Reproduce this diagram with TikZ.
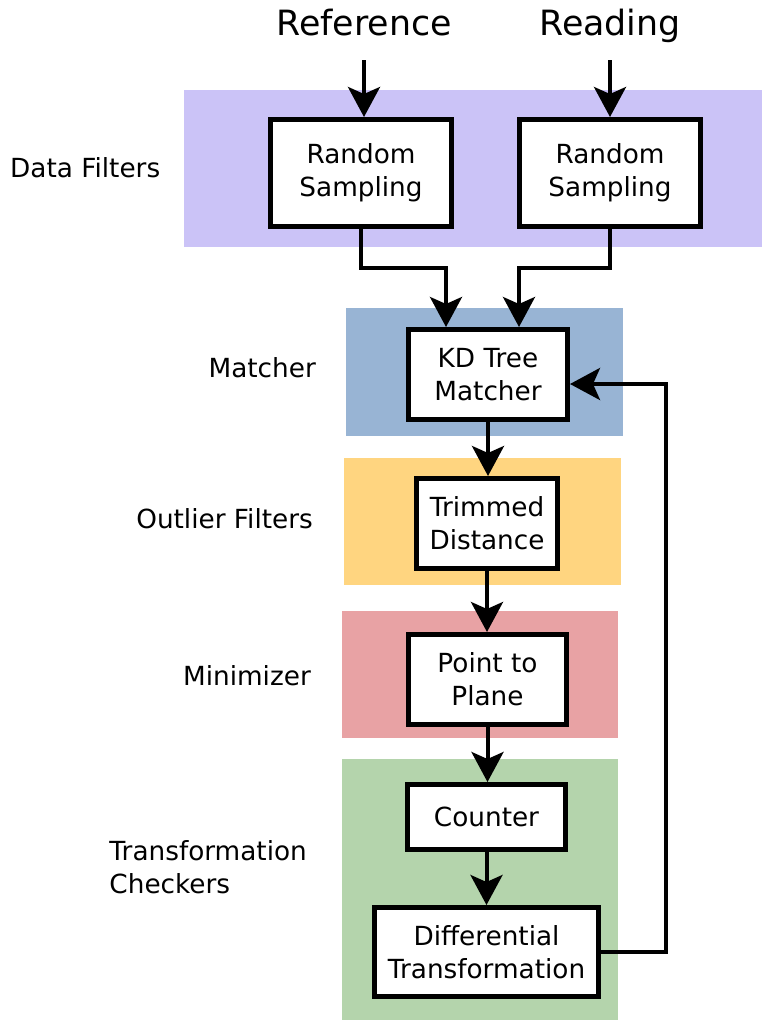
\documentclass[tikz,border=0pt]{standalone}
\usepackage{fontspec}
\setmainfont{DejaVu Sans}
\usetikzlibrary{arrows.meta}
\definecolor{data-violet}{HTML}{CBC3F7}
\definecolor{matcher-blue}{HTML}{98B4D4}
\definecolor{outlier-yellow}{HTML}{FFD580}
\definecolor{minimizer-red}{HTML}{E8A2A4}
\definecolor{checker-green}{HTML}{B4D4AC}
\tikzset{
    step-box/.style = {draw=black, fill=white, line width=5pt, rectangle, inner sep=0pt, align=center, font=\fontsize{26.3}{33}\selectfont},
    band-label/.style = {inner sep=0pt, align=left, font=\fontsize{26.3}{33}\selectfont},
    input-title/.style = {inner sep=0pt, anchor=base, font=\fontsize{34.8}{40}\selectfont},
    flow/.style = {line width=4pt, -{Stealth[length=30pt, width=32pt, inset=7pt]}},
}

\begin{document}
\begin{tikzpicture}[x=1pt, y=-1pt]
\useasboundingbox (0,0) rectangle (762,1020);
% stage bands
\fill[data-violet] (184,90) rectangle (762,247);
\fill[matcher-blue] (346,308) rectangle (623,436);
\fill[outlier-yellow] (344,458) rectangle (621,585);
\fill[minimizer-red] (342,611) rectangle (618,738);
\fill[checker-green] (342,759) rectangle (618,1020);

\node[band-label, anchor=west] (lbl-data) at (10,168) {Data Filters};
\node[band-label, anchor=east] (lbl-matcher) at (316,368) {Matcher};
\node[band-label, anchor=east] (lbl-outlier) at (313,519) {Outlier Filters};
\node[band-label, anchor=east] (lbl-minimizer) at (311,676) {Minimizer};
\node[band-label, anchor=east] (lbl-checkers) at (307,867) {Transformation\\Checkers};

% inputs
\node[input-title] (reference) at (364,35) {Reference};
\node[input-title] (reading) at (610,35) {Reading};
\coordinate (ref-in) at (364,60);
\coordinate (read-in) at (610,60);

% pipeline
\node[step-box, minimum width=181pt, minimum height=107pt] (ref-sampling) at (361,173) {Random\\Sampling};
\node[step-box, minimum width=181pt, minimum height=107pt] (read-sampling) at (610,173) {Random\\Sampling};
\node[step-box, minimum width=159pt, minimum height=90pt] (kd-matcher) at (488,374.5) {KD Tree\\Matcher};
\node[step-box, minimum width=141pt, minimum height=90pt] (trimmed) at (487,523.5) {Trimmed\\Distance};
\node[step-box, minimum width=158pt, minimum height=90pt] (point-plane) at (487.5,679.5) {Point to\\Plane};
\node[step-box, minimum width=158pt, minimum height=65pt] (counter) at (486.5,817) {Counter};
\node[step-box, minimum width=224pt, minimum height=89pt] (diff-trans) at (486.5,952) {Differential\\Transformation};

\draw[flow] (ref-in) -- (ref-in |- ref-sampling.north);
\draw[flow] (read-in) -- (read-in |- read-sampling.north);
\draw[flow] (ref-sampling.south) -- ++(0,39) -| ([xshift=-42pt]kd-matcher.north);
\draw[flow] (read-sampling.south) -- ++(0,39) -| ([xshift=31pt]kd-matcher.north);
\draw[flow] (kd-matcher.south) -- (kd-matcher.south |- trimmed.north);
\draw[flow] (trimmed.south) -- (trimmed.south |- point-plane.north);
\draw[flow] (point-plane.south) -- (point-plane.south |- counter.north);
\draw[flow] (counter.south) -- (counter.south |- diff-trans.north);
\draw[flow] (diff-trans.east) -- ++(65,0) |- ([yshift=-9.5pt]kd-matcher.east);
\end{tikzpicture}
\end{document}
